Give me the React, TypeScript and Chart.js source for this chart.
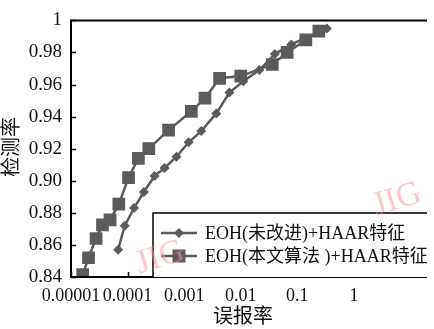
import { useEffect, useRef } from 'react';
import { Chart, registerables } from 'chart.js';

Chart.register(...registerables);

const xTickValues = [0.00001, 0.0001, 0.001, 0.01, 0.1, 1];
const xTickLabels = ['0.00001', '0.0001', '0.001', '0.01', '0.1', '1'];
const xMin = 0.00001;
const xMax = 18;
const yMin = 0.84;
const yMax = 1;
const yStep = 0.02;

const xTitle = '误报率';
const yTitle = '检测率';
const seriesNames = ['EOH(未改进)+HAAR特征', 'EOH(本文算法 )+HAAR特征'];

const origFalseRate = [0.000068, 0.000089, 0.00013, 0.000194, 0.0003, 0.00045, 0.00073, 0.0012, 0.002, 0.0037, 0.0063, 0.0111, 0.0213, 0.04, 0.078, 0.333];
const origDetectRate = [0.857, 0.872, 0.883, 0.893, 0.903, 0.908, 0.915, 0.924, 0.931, 0.942, 0.955, 0.962, 0.969, 0.979, 0.985, 0.995];

const oursFalseRate = [0.0000161, 0.0000204, 0.0000277, 0.000036, 0.000049, 0.00007, 0.000104, 0.000155, 0.000237, 0.00053, 0.00134, 0.00233, 0.00423, 0.01, 0.036, 0.066, 0.141, 0.24];
const oursDetectRate = [0.8415, 0.852, 0.864, 0.8725, 0.8756, 0.8854, 0.902, 0.914, 0.92, 0.9316, 0.9433, 0.9515, 0.9639, 0.9653, 0.9725, 0.98, 0.9878, 0.9933];

const SERIF = '"Liberation Serif", "Noto Sans CJK SC", serif';
const LINE_COLOR = '#5b5b5b';

const framePlugin = {
  id: 'frameAndLegend',
  afterDatasetsDraw(chart: any) {
    const { ctx, chartArea } = chart;
    const { left, right, top, bottom } = chartArea;
    const xs = chart.scales.x;
    const ys = chart.scales.y;
    ctx.save();
    ctx.strokeStyle = '#000';
    ctx.lineWidth = 2;
    ctx.beginPath();
    ctx.moveTo(right + 2, top);
    ctx.lineTo(left, top);
    ctx.lineTo(left, bottom);
    ctx.lineTo(right + 2, bottom);
    ctx.stroke();
    ctx.lineWidth = 1.5;
    ctx.beginPath();
    for (let v = yMin; v <= yMax + 1e-9; v += yStep) {
      const y = Math.round(ys.getPixelForValue(v)) + 0.5;
      ctx.moveTo(left, y);
      ctx.lineTo(left + 5, y);
    }
    for (const v of xTickValues) {
      const x = Math.round(xs.getPixelForValue(v)) + 0.5;
      ctx.moveTo(x, bottom);
      ctx.lineTo(x, bottom - 5);
    }
    ctx.stroke();

    const lx = 153;
    const ly = 213;
    ctx.fillStyle = '#fff';
    ctx.fillRect(lx, ly, right - lx + 2, bottom - ly);
    ctx.strokeStyle = '#000';
    ctx.lineWidth = 1.5;
    ctx.beginPath();
    ctx.moveTo(lx, bottom);
    ctx.lineTo(lx, ly);
    ctx.lineTo(right + 2, ly);
    ctx.stroke();
    const rows = [233, 256];
    chart.data.datasets.forEach((ds: any, i: number) => {
      const y = rows[i];
      ctx.strokeStyle = LINE_COLOR;
      ctx.lineWidth = 2.5;
      ctx.beginPath();
      ctx.moveTo(161, y);
      ctx.lineTo(197, y);
      ctx.stroke();
      ctx.fillStyle = LINE_COLOR;
      ctx.beginPath();
      if (ds.pointStyle === 'rect') {
        ctx.rect(179 - 6.5, y - 6.5, 13, 13);
      } else {
        ctx.moveTo(179 - 5, y);
        ctx.lineTo(179, y - 5);
        ctx.lineTo(179 + 5, y);
        ctx.lineTo(179, y + 5);
        ctx.closePath();
      }
      ctx.fill();
      ctx.fillStyle = '#111';
      ctx.font = '18px ' + SERIF;
      ctx.textAlign = 'left';
      ctx.textBaseline = 'middle';
      ctx.fillText(ds.label, 205, y + 1);
    });

    ctx.fillStyle = '#111';
    ctx.font = '20px ' + SERIF;
    ctx.textAlign = 'center';
    ctx.textBaseline = 'middle';
    ctx.fillText(xTitle, 243, 318);
    ctx.save();
    ctx.translate(13, 147);
    ctx.rotate(-Math.PI / 2);
    ctx.fillText(yTitle, 0, 0);
    ctx.restore();
    ctx.restore();
  },
  afterDraw(chart: any) {
    const { ctx } = chart;
    ctx.save();
    ctx.fillStyle = 'rgba(250, 150, 150, 0.5)';
    ctx.font = '34px ' + SERIF;
    ctx.textAlign = 'center';
    ctx.textBaseline = 'middle';
    const marks = [
      [160, 258],
      [397, 200],
    ];
    for (const [x, y] of marks) {
      ctx.save();
      ctx.translate(x, y);
      ctx.rotate(-0.3);
      ctx.fillText('JIG', 0, 0);
      ctx.restore();
    }
    ctx.restore();
  },
};

export default function App() {
  const ref = useRef<HTMLCanvasElement | null>(null);
  useEffect(() => {
    document.body.style.margin = '0';
    const canvas = ref.current;
    if (!canvas) return;
    const chart = new Chart(canvas, {
      type: 'line',
      data: {
        datasets: [
          {
            label: seriesNames[0],
            data: origFalseRate.map((x, i) => ({ x, y: origDetectRate[i] })),
            borderColor: LINE_COLOR,
            backgroundColor: LINE_COLOR,
            borderWidth: 2.5,
            pointStyle: 'rectRot',
            pointRadius: 5,
            pointBorderWidth: 0,
            tension: 0,
          },
          {
            label: seriesNames[1],
            data: oursFalseRate.map((x, i) => ({ x, y: oursDetectRate[i] })),
            borderColor: LINE_COLOR,
            backgroundColor: LINE_COLOR,
            borderWidth: 2.5,
            pointStyle: 'rect',
            pointRadius: 9,
            pointBorderWidth: 0,
            tension: 0,
          },
        ],
      },
      options: {
        responsive: false,
        animation: false,
        layout: { padding: { top: 15, right: 0, left: 0, bottom: 0 } },
        plugins: {
          legend: { display: false },
          tooltip: { enabled: false },
          title: { display: false },
        },
        scales: {
          x: {
            type: 'logarithmic',
            min: xMin,
            max: xMax,
            afterBuildTicks(scale: any) {
              scale.ticks = xTickValues.map((v) => ({ value: v }));
            },
            afterFit(scale: any) {
              scale.height = 52;
            },
            border: { display: false },
            grid: { display: false, drawTicks: false },
            ticks: {
              padding: 8,
              maxRotation: 0,
              autoSkip: false,
              color: '#111',
              font: { family: SERIF, size: 18 },
              callback: (v: any) => {
                const i = xTickValues.findIndex((t) => Math.abs(Math.log10(t) - Math.log10(Number(v))) < 1e-6);
                return i >= 0 ? xTickLabels[i] : '';
              },
            },
          },
          y: {
            type: 'linear',
            min: yMin,
            max: yMax,
            afterFit(scale: any) {
              scale.width = 71;
            },
            border: { display: false },
            grid: { display: false, drawTicks: false },
            ticks: {
              stepSize: yStep,
              padding: 9,
              color: '#111',
              font: { family: SERIF, size: 19 },
              callback: (v: any) => (Math.abs(Number(v) - 1) < 1e-9 ? '1' : Number(v).toFixed(2)),
            },
          },
        },
      },
      plugins: [framePlugin],
    } as any);
    return () => chart.destroy();
  }, []);
  return <canvas ref={ref} width={434} height={329} style={{ display: 'block' }} />;
}
